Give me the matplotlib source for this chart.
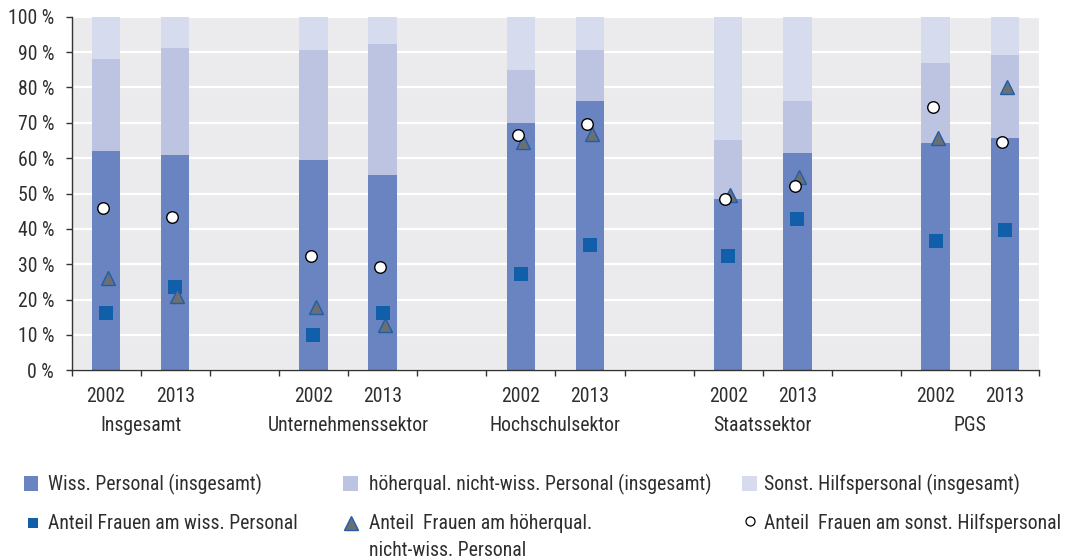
import numpy as np
import matplotlib
matplotlib.use("Agg")
import matplotlib.pyplot as plt
from matplotlib.patches import Rectangle
from matplotlib.lines import Line2D
from matplotlib.transforms import blended_transform_factory

plt.rcParams['font.family'] = ['Roboto Condensed', 'DejaVu Sans']

# data (in %)
sectors = ["Insgesamt", "Unternehmenssektor", "Hochschulsektor", "Staatssektor", "PGS"]
years = ["2002", "2013"]
wiss = [62.0, 60.8, 59.6, 55.3, 70.0, 76.3, 48.4, 61.4, 64.4, 65.8]
hoeher = [26.1, 30.4, 31.0, 37.1, 15.0, 14.3, 16.8, 14.8, 22.4, 23.4]
sonst = [11.9, 8.8, 9.4, 7.6, 15.0, 9.4, 34.8, 23.8, 13.2, 10.8]
frauen_wiss = [16.2, 23.6, 9.9, 16.2, 27.2, 35.4, 32.4, 42.8, 36.5, 39.7]
frauen_hoeher = [26.0, 21.0, 17.9, 12.9, 64.7, 66.7, 49.7, 54.6, 65.8, 80.0]
frauen_sonst = [45.9, 43.4, 32.3, 29.2, 66.5, 69.6, 48.4, 52.2, 74.5, 64.5]

labels_bar = ["Wiss. Personal (insgesamt)",
              "höherqual. nicht-wiss. Personal (insgesamt)",
              "Sonst. Hilfspersonal (insgesamt)"]
labels_marker = [["Anteil Frauen am wiss. Personal"],
                 ["Anteil  Frauen am höherqual.", "nicht-wiss. Personal"],
                 ["Anteil  Frauen am sonst. Hilfspersonal"]]

C_WISS = "#6a84c1"
C_HOEHER = "#bcc4e1"
C_SONST = "#d6dbed"
C_SQUARE = "#115ea9"
C_TRI = "#6b6e73"
C_TRI_EDGE = "#1f5fa8"
C_TEXT = "#2e2e2e"
C_BG = "#ebebed"
FS = 14.2

W, H = 1067, 560
fig = plt.figure(figsize=(W / 100, H / 100), dpi=100)
ax = fig.add_axes([71.5 / W, 1 - 370.3 / H, (1039.3 - 71.5) / W, (370.3 - 16.7) / H])
ax.set_facecolor(C_BG)

# two slots per sector plus one empty slot between sectors
pos = []
for i in range(len(sectors)):
    pos += [3 * i, 3 * i + 1]
pos = np.array(pos, dtype=float)

width = 0.41
bottom2 = np.add(wiss, hoeher)
ax.bar(pos, wiss, width, color=C_WISS, zorder=2)
ax.bar(pos, hoeher, width, bottom=wiss, color=C_HOEHER, zorder=2)
ax.bar(pos, sonst, width, bottom=bottom2, color=C_SONST, zorder=2)

ax.plot(pos, frauen_wiss, linestyle="none", marker="s", markersize=9.5,
        color=C_SQUARE, markeredgewidth=0, zorder=3)
ax.plot(pos + 0.03, frauen_hoeher, linestyle="none", marker="^", markersize=10,
        markerfacecolor=C_TRI, markeredgecolor=C_TRI_EDGE, markeredgewidth=1.0, zorder=4)
ax.plot(pos - 0.04, frauen_sonst, linestyle="none", marker="o", markersize=8.3,
        markerfacecolor="white", markeredgecolor="black", markeredgewidth=1.0, zorder=5)

ax.set_xlim(-0.5, 13.5)
ax.set_ylim(0, 100)
ax.set_yticks(range(0, 101, 10))
ax.set_yticklabels([f"{v} %" for v in range(0, 101, 10)], fontsize=FS, color=C_TEXT)
ax.tick_params(axis="y", length=4.5, width=1, color="#333333", pad=8)
ax.yaxis.grid(True, color="white", linewidth=1.6, zorder=1)
ax.set_axisbelow(True)

ax.set_xticks(np.arange(-0.5, 14, 1))
ax.set_xticklabels([])
ax.tick_params(axis="x", length=4, width=1, color="#333333")

for s in ["top", "right"]:
    ax.spines[s].set_visible(False)
for s in ["left", "bottom"]:
    ax.spines[s].set_color("#333333")
    ax.spines[s].set_linewidth(1.0)

trans = blended_transform_factory(ax.transData, ax.transAxes)
ax_h = 370.3 - 16.7
for i, p in enumerate(pos):
    ax.text(p, -(401.7 - 370.3) / ax_h, years[i % 2], transform=trans,
            ha="center", va="baseline", fontsize=FS, color=C_TEXT)
for i, name in enumerate(sectors):
    ax.text(3 * i + 0.5, -(431 - 370.3) / ax_h, name, transform=trans,
            ha="center", va="baseline", fontsize=FS, color=C_TEXT)


# legend drawn by hand in pixel positions
def fx(x):
    return x / W


def fy(y):
    return 1 - y / H


col_patch = [24, 343.3, 742.3]
col_text = [48.3, 369.3, 764.3]
bar_colors = [C_WISS, C_HOEHER, C_SONST]
for k in range(3):
    fig.add_artist(Rectangle((fx(col_patch[k]), fy(490.5)), 14.3 / W, 14.3 / H,
                             transform=fig.transFigure, color=bar_colors[k], lw=0))
    fig.text(fx(col_text[k]), fy(490.5), labels_bar[k], fontsize=FS,
             color=C_TEXT, va="baseline", ha="left")

fig.add_artist(Line2D([fx(32.5)], [fy(523)], transform=fig.transFigure, marker="s",
                      markersize=7.5, color=C_SQUARE, markeredgewidth=0, linestyle="none"))
fig.add_artist(Line2D([fx(350.5)], [fy(522.5)], transform=fig.transFigure, marker="^",
                      markersize=10, markerfacecolor=C_TRI, markeredgecolor=C_TRI_EDGE,
                      markeredgewidth=1.0, linestyle="none"))
fig.add_artist(Line2D([fx(749.7)], [fy(520.5)], transform=fig.transFigure, marker="o",
                      markersize=6.5, markerfacecolor="white", markeredgecolor="black",
                      markeredgewidth=0.9, linestyle="none"))
for k in range(3):
    for j, line in enumerate(labels_marker[k]):
        fig.text(fx(col_text[k]), fy(529.3 + 27 * j), line, fontsize=FS, color=C_TEXT,
                 va="baseline", ha="left")

fig.savefig("out.png", dpi=100)
